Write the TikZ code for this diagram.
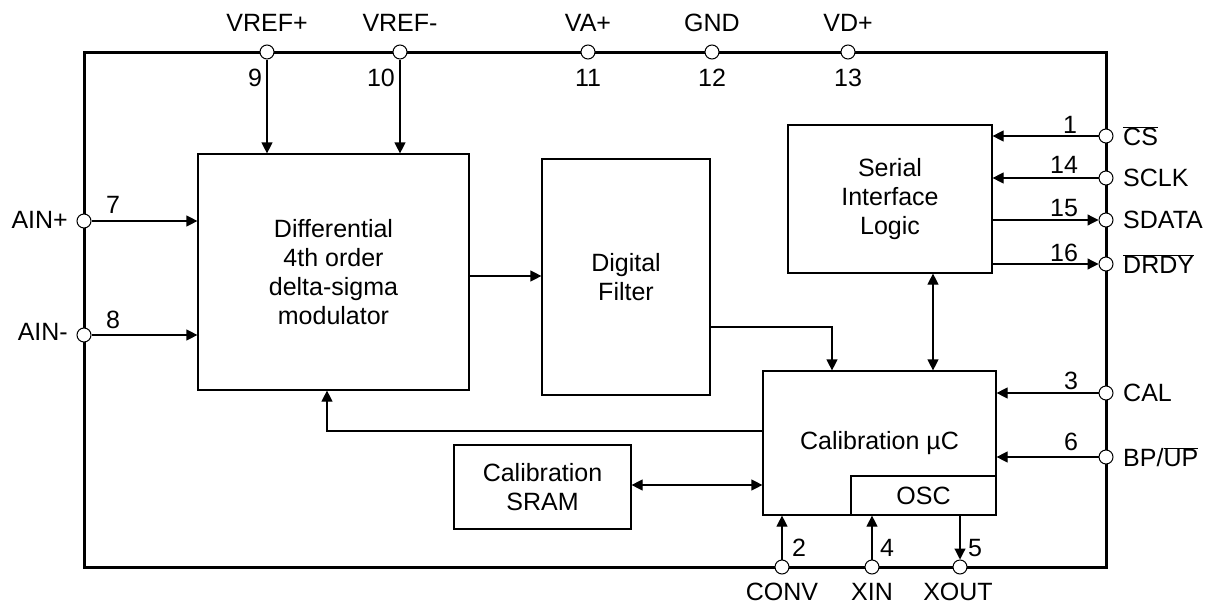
\documentclass[tikz,border=0pt]{standalone}
\usepackage{fontspec}
\setmainfont{Liberation Sans}
\usetikzlibrary{arrows.meta}
\newcommand{\ovl}[1]{$\overline{\mbox{#1}}$}
\begin{document}
\begin{tikzpicture}[x=1pt,y=-1pt,
  every node/.style={font=\fontsize{25pt}{29pt}\selectfont},
  box/.style={draw, line width=1.2pt, align=center, inner sep=0pt},
  pinc/.style={circle, draw, fill=white, line width=1pt, inner sep=0pt, minimum size=14pt},
  lbl/.style={inner sep=0pt},
  arr/.style={line width=1.2pt, -{Triangle[length=11pt,width=11pt]}},
  biarr/.style={line width=1.2pt, {Triangle[length=11pt,width=11pt]}-{Triangle[length=11pt,width=11pt]}}]
\useasboundingbox (0,0) rectangle (1216,605);
% outer border
\draw[line width=3pt] (84,52) rectangle (1106,567);
% boxes
\node[box, minimum width=271pt, minimum height=236pt] (mod) at (333.5,272) {Differential\\4th order\\delta-sigma\\modulator};
\node[box, minimum width=168pt, minimum height=236pt] (filt) at (626,277) {Digital\\Filter};
\node[box, minimum width=204pt, minimum height=148pt] (ser) at (890,199) {Serial\\Interface\\Logic};
\node[box, minimum width=233pt, minimum height=144pt] (cal) at (879.5,443) {Calibration µC};
\node[box, minimum width=145pt, minimum height=39pt] (osc) at (923.5,495.5) {OSC};
\node[box, minimum width=177pt, minimum height=84pt] (sram) at (542.5,487) {Calibration\\SRAM};
% internal connectors
\draw[arr] ([yshift=-4pt]mod.east) -- ([yshift=-4pt]mod.east -| filt.west);
\draw[arr] ([yshift=-50pt]filt.east) -| ([xshift=-47.5pt]cal.north);
\draw[biarr] ([xshift=43pt]ser.south) -- ([xshift=43pt]ser.south |- cal.north);
\draw[arr] ([yshift=12pt]cal.west) -| ([xshift=-6.5pt]mod.south);
\draw[biarr] ([yshift=2pt]sram.east) -- ([yshift=2pt]sram.east -| cal.west);
% top pins
\node[pinc] (p9) at (267,52) {};
\node[pinc] (p10) at (400,52) {};
\node[pinc] (p11) at (588,52) {};
\node[pinc] (p12) at (712,52) {};
\node[pinc] (p13) at (848,52) {};
\draw[arr] (p9) -- (p9 |- mod.north);
\draw[arr] (p10) -- (p10 |- mod.north);
\node[lbl] (l9) at (267,23) {VREF+};
\node[lbl] (l10) at (400,23) {VREF-};
\node[lbl] (l11) at (588,23) {VA+};
\node[lbl] (l12) at (712,23) {GND};
\node[lbl] (l13) at (848,23) {VD+};
\node[lbl] (n9) at (255,78) {9};
\node[lbl] (n10) at (381,78) {10};
\node[lbl] (n11) at (588,78) {11};
\node[lbl] (n12) at (712,78) {12};
\node[lbl] (n13) at (848,78) {13};
% left pins
\node[pinc] (p7) at (84,221) {};
\node[pinc] (p8) at (84,335) {};
\draw[arr] (p7) -- (p7 -| mod.west);
\draw[arr] (p8) -- (p8 -| mod.west);
\node[lbl, anchor=east] (l7) at (68,220) {AIN+};
\node[lbl, anchor=east] (l8) at (68,332) {AIN-};
\node[lbl] (n7) at (113,205) {7};
\node[lbl] (n8) at (113,320) {8};
% right pins
\node[pinc] (p1) at (1106,136) {};
\node[pinc] (p14) at (1106,178) {};
\node[pinc] (p15) at (1106,220) {};
\node[pinc] (p16) at (1106,264) {};
\node[pinc] (p3) at (1106,393) {};
\node[pinc] (p6) at (1106,457) {};
\draw[arr] (p1) -- (p1 -| ser.east);
\draw[arr] (p14) -- (p14 -| ser.east);
\draw[arr] (ser.east |- p15) -- (p15);
\draw[arr] (ser.east |- p16) -- (p16);
\draw[arr] (p3) -- (p3 -| cal.east);
\draw[arr] (p6) -- (p6 -| cal.east);
\node[lbl, anchor=west] (l1) at (1123,136) {\ovl{CS}};
\node[lbl, anchor=west] (l14) at (1123,178) {SCLK};
\node[lbl, anchor=west] (l15) at (1123,220) {SDATA};
\node[lbl, anchor=west] (l16) at (1123,264) {\ovl{DRDY}};
\node[lbl, anchor=west] (l3) at (1123,393) {CAL};
\node[lbl, anchor=west] (l6) at (1123,457) {BP/\ovl{UP}};
\node[lbl] (n1) at (1070,125) {1};
\node[lbl] (n14) at (1064,165) {14};
\node[lbl] (n15) at (1064,208) {15};
\node[lbl] (n16) at (1064,253) {16};
\node[lbl] (n3) at (1071,381) {3};
\node[lbl] (n6) at (1071,442) {6};
% bottom pins
\node[pinc] (p2) at (782,567) {};
\node[pinc] (p4) at (872,567) {};
\node[pinc] (p5) at (960,567) {};
\draw[arr] (p2) -- (p2 |- cal.south);
\draw[arr] (p4) -- (p4 |- osc.south);
\draw[arr] (p5 |- osc.south) -- (p5);
\node[lbl] (l2) at (782,592) {CONV};
\node[lbl] (l4) at (872,592) {XIN};
\node[lbl] (l5) at (958,592) {XOUT};
\node[lbl] (n2) at (799,548) {2};
\node[lbl] (n4) at (887,548) {4};
\node[lbl] (n5) at (975,548) {5};
\end{tikzpicture}
\end{document}
